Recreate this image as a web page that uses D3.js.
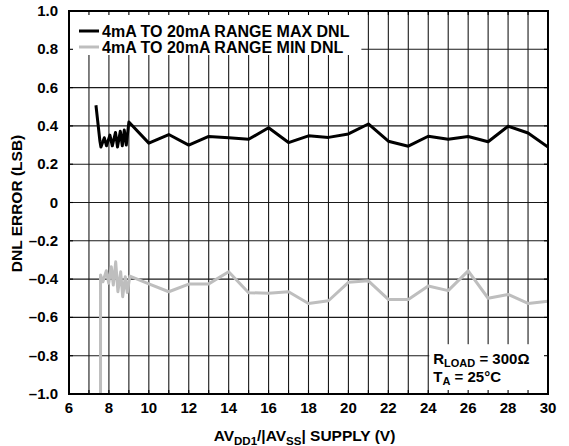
<!DOCTYPE html>
<html>
<head>
<meta charset="utf-8">
<script src="https://cdn.jsdelivr.net/npm/d3@7"></script>
<style>
  html, body { margin: 0; padding: 0; background: #fff; }
  svg { display: block; font-family: "Liberation Sans", Arial, Helvetica, sans-serif; font-weight: bold; }
</style>
</head>
<body>
<svg id="chart" width="569" height="446"></svg>
<script>
// Supply voltage (V) and DNL error (LSB), 4mA to 20mA range
const maxDnlSupply = [7.35, 7.55, 7.6, 7.77, 7.88, 8.05, 8.17, 8.33, 8.43, 8.57, 8.67, 8.77, 8.87, 9,
  10, 11, 12, 13, 14, 15, 16, 17, 18, 19, 20, 21, 22, 23, 24, 25, 26, 27, 28, 29, 30];
const maxDnlValues = [0.508, 0.32, 0.29, 0.338, 0.296, 0.352, 0.296, 0.366, 0.29, 0.372, 0.296, 0.378, 0.30, 0.42,
  0.31, 0.355, 0.30, 0.345, 0.338, 0.33, 0.39, 0.313, 0.348, 0.34, 0.358, 0.41, 0.32, 0.294, 0.346, 0.33, 0.345, 0.317, 0.398, 0.363, 0.29];

const minDnlSupply = [7.58, 7.58, 7.7, 7.87, 7.99, 8.12, 8.22, 8.34, 8.45, 8.59, 8.69, 8.82, 8.92, 9.05,
  10, 11, 12, 13, 14, 15, 16, 17, 18, 19, 20, 21, 22, 23, 24, 25, 26, 27, 28, 29, 30];
const minDnlValues = [-1.0, -0.379, -0.414, -0.356, -0.422, -0.335, -0.431, -0.31, -0.466, -0.362, -0.492, -0.388, -0.47, -0.385,
  -0.425, -0.466, -0.426, -0.425, -0.362, -0.471, -0.474, -0.466, -0.527, -0.513, -0.417, -0.409, -0.506, -0.506, -0.436, -0.46, -0.357, -0.5, -0.48, -0.527, -0.516];

const xTickValues = [6, 8, 10, 12, 14, 16, 18, 20, 22, 24, 26, 28, 30];
const yTickValues = [-1.0, -0.8, -0.6, -0.4, -0.2, 0, 0.2, 0.4, 0.6, 0.8, 1.0];
const yTickLabels = ["\u20131.0", "\u20130.8", "\u20130.6", "\u20130.4", "\u20130.2", "0", "0.2", "0.4", "0.6", "0.8", "1.0"];
const legendLabels = ["4mA TO 20mA RANGE MAX DNL", "4mA TO 20mA RANGE MIN DNL"];
const seriesColors = ["#000000", "#bebebe"];

const width = 569, height = 446;
const margin = { top: 11, right: 21, bottom: 52, left: 69 };
const plotW = width - margin.left - margin.right;
const plotH = height - margin.top - margin.bottom;

const svg = d3.select("#chart");
const g = svg.append("g").attr("transform", `translate(${margin.left},${margin.top})`);

const x = d3.scaleLinear().domain([6, 30]).range([0, plotW]);
const y = d3.scaleLinear().domain([-1, 1]).range([plotH, 0]);

// Grid: every 1 V vertically, every 0.2 LSB horizontally
const gridX = d3.range(7, 30, 1);
const gridY = d3.range(-0.8, 0.81, 0.2);
g.append("g").selectAll("line").data(gridX).join("line")
  .attr("x1", d => x(d)).attr("x2", d => x(d))
  .attr("y1", 0).attr("y2", plotH)
  .attr("stroke", "#1a1a1a").attr("stroke-width", 1.1);
g.append("g").selectAll("line").data(gridY).join("line")
  .attr("x1", 0).attr("x2", plotW)
  .attr("y1", d => y(d)).attr("y2", d => y(d))
  .attr("stroke", "#1a1a1a").attr("stroke-width", 1.1);

// White panels behind legend and conditions note
g.append("rect").attr("x", 0).attr("y", 0)
  .attr("width", x(20.65)).attr("height", 44).attr("fill", "#fff");
g.append("rect").attr("x", x(24) + 1).attr("y", y(-0.74))
  .attr("width", plotW - x(24) - 1).attr("height", plotH - y(-0.74)).attr("fill", "#fff");

// Inward ticks on all four sides
const tickLen = 4;
const allX = d3.range(7, 30, 1);
g.append("g").selectAll("line").data(allX).join("line")
  .attr("x1", d => x(d)).attr("x2", d => x(d)).attr("y1", 0).attr("y2", tickLen)
  .attr("stroke", "#000").attr("stroke-width", 1.1);
g.append("g").selectAll("line").data(allX).join("line")
  .attr("x1", d => x(d)).attr("x2", d => x(d)).attr("y1", plotH).attr("y2", plotH - tickLen)
  .attr("stroke", "#000").attr("stroke-width", 1.1);
g.append("g").selectAll("line").data(gridY).join("line")
  .attr("x1", 0).attr("x2", tickLen).attr("y1", d => y(d)).attr("y2", d => y(d))
  .attr("stroke", "#000").attr("stroke-width", 1.1);
g.append("g").selectAll("line").data(gridY).join("line")
  .attr("x1", plotW).attr("x2", plotW - tickLen).attr("y1", d => y(d)).attr("y2", d => y(d))
  .attr("stroke", "#000").attr("stroke-width", 1.1);

// Data lines
g.append("clipPath").attr("id", "plotClip")
  .append("rect").attr("width", plotW).attr("height", plotH);

const line = d3.line().x(d => x(d[0])).y(d => y(d[1])).curve(d3.curveLinear);
const series = [
  d3.zip(minDnlSupply, minDnlValues),
  d3.zip(maxDnlSupply, maxDnlValues)
];
g.append("path").datum(series[0])
  .attr("d", line).attr("fill", "none")
  .attr("stroke", seriesColors[1]).attr("stroke-width", 3)
  .attr("stroke-linejoin", "round").attr("clip-path", "url(#plotClip)");
g.append("path").datum(series[1])
  .attr("d", line).attr("fill", "none")
  .attr("stroke", seriesColors[0]).attr("stroke-width", 3)
  .attr("stroke-linejoin", "round").attr("clip-path", "url(#plotClip)");

// Frame
g.append("rect").attr("x", 0).attr("y", 0).attr("width", plotW).attr("height", plotH)
  .attr("fill", "none").attr("stroke", "#000").attr("stroke-width", 2);

// Tick labels
g.append("g").selectAll("text").data(xTickValues).join("text")
  .attr("x", d => x(d)).attr("y", plotH + 19)
  .attr("text-anchor", "middle").attr("font-size", 15).text(d => d);
g.append("g").selectAll("text").data(yTickValues).join("text")
  .attr("x", -11).attr("y", d => y(d) + 5)
  .attr("text-anchor", "end").attr("font-size", 15).text((d, i) => yTickLabels[i]);

// Axis titles
svg.append("text")
  .attr("transform", `translate(22,${margin.top + plotH / 2 + 1}) rotate(-90)`)
  .attr("text-anchor", "middle").attr("font-size", 15.5)
  .text("DNL ERROR (LSB)");

const xTitle = svg.append("text")
  .attr("x", margin.left + plotW / 2 - 4).attr("y", 441)
  .attr("text-anchor", "middle").attr("font-size", 15.5);
xTitle.append("tspan").text("AV");
xTitle.append("tspan").attr("font-size", 11.5).attr("dy", 3.5).text("DD1");
xTitle.append("tspan").attr("dy", -3.5).text("/|AV");
xTitle.append("tspan").attr("font-size", 11.5).attr("dy", 3.5).text("SS");
xTitle.append("tspan").attr("dy", -3.5).text("| SUPPLY (V)");

// Legend
const legend = g.append("g");
legendLabels.forEach((label, i) => {
  const ly = 20 + i * 16;
  legend.append("line")
    .attr("x1", 10).attr("x2", 30).attr("y1", ly).attr("y2", ly)
    .attr("stroke", seriesColors[i]).attr("stroke-width", 3);
  legend.append("text")
    .attr("x", 33).attr("y", ly + 5.5)
    .attr("font-size", 16).text(label);
});

// Test conditions note
const note = g.append("g").attr("font-size", 15);
const r = note.append("text").attr("x", x(24) + 5).attr("y", y(-0.8) + 8);
r.append("tspan").text("R");
r.append("tspan").attr("font-size", 11).attr("dy", 3).text("LOAD");
r.append("tspan").attr("dy", -3).text(" = 300\u03A9");
const t = note.append("text").attr("x", x(24) + 5).attr("y", y(-0.8) + 26);
t.append("tspan").text("T");
t.append("tspan").attr("font-size", 11).attr("dy", 3).text("A");
t.append("tspan").attr("dy", -3).text(" = 25\u00B0C");
</script>
</body>
</html>
